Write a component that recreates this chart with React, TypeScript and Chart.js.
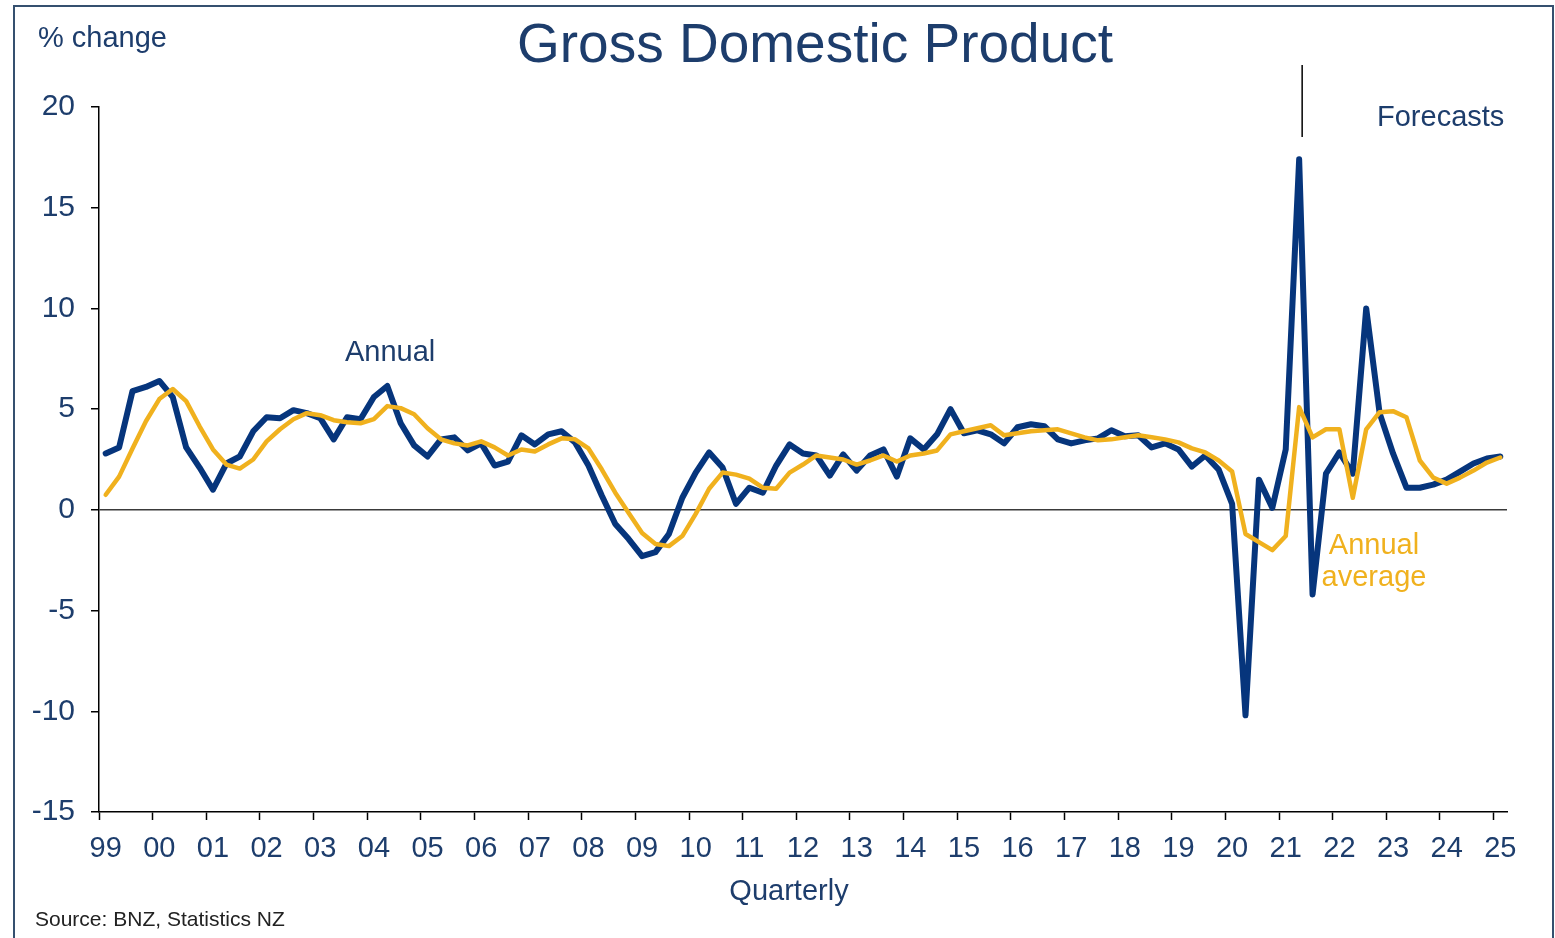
import React, { useEffect, useRef } from "react";
import { Chart, registerables } from "chart.js";

Chart.register(...registerables);

const yearLabels = ["99","00","01","02","03","04","05","06","07","08","09","10","11","12","13","14","15","16","17","18","19","20","21","22","23","24","25"];

const annualGrowth = [
  2.8, 3.1, 5.9, 6.1, 6.4, 5.6, 3.1, 2.1, 1.0, 2.3,
  2.65, 3.9, 4.6, 4.55, 4.95, 4.8, 4.55, 3.5, 4.6, 4.5,
  5.6, 6.15, 4.3, 3.2, 2.65, 3.5, 3.6, 2.95, 3.3, 2.2,
  2.4, 3.7, 3.25, 3.75, 3.9, 3.35, 2.2, 0.7, -0.7, -1.45,
  -2.3, -2.1, -1.2, 0.6, 1.85, 2.85, 2.1, 0.3, 1.1, 0.85,
  2.2, 3.25, 2.8, 2.7, 1.7, 2.75, 1.95, 2.7, 3.0, 1.65,
  3.55, 3.0, 3.75, 5.0, 3.8, 3.95, 3.75, 3.3, 4.1, 4.25,
  4.15, 3.5, 3.3, 3.45, 3.55, 3.95, 3.65, 3.7, 3.1, 3.3,
  3.0, 2.15, 2.7, 2.0, 0.3, -10.2, 1.5, 0.1, 3.0, 17.4,
  -4.2, 1.8, 2.85, 1.8, 10.0, 4.8, 2.8, 1.1, 1.1, 1.25,
  1.5, 1.9, 2.3, 2.55, 2.65
];

const annualAverage = [
  0.75, 1.65, 3.05, 4.4, 5.5, 6.0, 5.4, 4.15, 3.0, 2.25,
  2.05, 2.5, 3.4, 4.0, 4.5, 4.8, 4.7, 4.45, 4.35, 4.3,
  4.5, 5.15, 5.05, 4.75, 4.05, 3.5, 3.3, 3.2, 3.4, 3.1,
  2.7, 3.0, 2.9, 3.25, 3.55, 3.5, 3.05, 2.0, 0.85, -0.15,
  -1.15, -1.7, -1.8, -1.3, -0.2, 1.05, 1.85, 1.75, 1.55, 1.1,
  1.05, 1.85, 2.25, 2.7, 2.6, 2.5, 2.25, 2.45, 2.7, 2.4,
  2.7, 2.8, 2.95, 3.75, 3.9, 4.05, 4.2, 3.7, 3.8, 3.9,
  3.95, 4.0, 3.8, 3.6, 3.45, 3.5, 3.6, 3.7, 3.6, 3.5,
  3.35, 3.05, 2.85, 2.45, 1.9, -1.2, -1.6, -2.0, -1.3, 5.1,
  3.6, 4.0, 4.0, 0.6, 4.0, 4.85, 4.9, 4.6, 2.45, 1.6,
  1.3, 1.6, 1.95, 2.35, 2.6
];

const yTicks = [-15, -10, -5, 0, 5, 10, 15, 20];
const quartersPerYear = 4;
const forecastStartIndex = 89;

// x = quarter index since 1999 Q1 (x axis spans half a quarter either side)
const growthPoints = annualGrowth.map((v, i) => ({ x: i, y: v }));
const averagePoints = annualAverage.map((v, i) => ({ x: i, y: v }));
const xMin = -0.5;
const xMax = annualGrowth.length - 0.5;
const yearTickValues = yearLabels.map((_, k) => k * quartersPerYear - 0.5);

const NAVY_TEXT = "#1d3d6c";
const BLUE = "#06357c";
const GOLD = "#f0b11e";
const FONT = "'Liberation Sans', Arial, sans-serif";

const overlayPlugin = {
  id: "overlay",
  beforeDraw(chart: any) {
    const ctx = chart.ctx;
    ctx.save();
    ctx.fillStyle = "#ffffff";
    ctx.fillRect(0, 0, chart.width, chart.height);
    ctx.restore();
  },
  afterDraw(chart: any) {
    const ctx = chart.ctx;
    ctx.save();
    ctx.strokeStyle = "#35506f";
    ctx.lineWidth = 2;
    ctx.strokeRect(14, 6, 1539, 940);

    ctx.fillStyle = NAVY_TEXT;
    ctx.textAlign = "left";
    ctx.textBaseline = "alphabetic";
    ctx.font = `29px ${FONT}`;
    ctx.fillText("% change", 38, 47);

    ctx.textAlign = "center";
    ctx.font = `55px ${FONT}`;
    ctx.fillText("Gross Domestic Product", 815, 62);

    ctx.font = `29px ${FONT}`;
    ctx.textAlign = "left";
    ctx.fillText("Annual", 345, 361);
    ctx.fillText("Forecasts", 1377, 126);

    ctx.textAlign = "center";
    ctx.fillText("Quarterly", 789, 900);

    ctx.fillStyle = GOLD;
    ctx.fillText("Annual", 1374, 554);
    ctx.fillText("average", 1374, 586);

    ctx.fillStyle = "#222222";
    ctx.textAlign = "left";
    ctx.font = `21px ${FONT}`;
    ctx.fillText("Source: BNZ, Statistics NZ", 35, 926);

    const x = chart.scales.x.getPixelForValue(forecastStartIndex) + 3;
    ctx.strokeStyle = "#000000";
    ctx.lineWidth = 1.5;
    ctx.beginPath();
    ctx.moveTo(x, 65);
    ctx.lineTo(x, 137);
    ctx.stroke();
    ctx.restore();
  },
};

export default function App() {
  const canvasRef = useRef<HTMLCanvasElement | null>(null);

  useEffect(() => {
    if (!canvasRef.current) return;
    const chart = new Chart(canvasRef.current, {
      type: "line",
      data: {
        datasets: [
          {
            label: "Annual average",
            data: averagePoints,
            borderColor: GOLD,
            borderWidth: 4.5,
            pointRadius: 0,
            tension: 0,
            borderJoinStyle: "round",
            borderCapStyle: "round",
            fill: false,
          },
          {
            label: "Annual",
            data: growthPoints,
            borderColor: BLUE,
            borderWidth: 6,
            pointRadius: 0,
            tension: 0,
            borderJoinStyle: "round",
            borderCapStyle: "round",
            fill: false,
          },
        ],
      },
      options: {
        animation: false,
        responsive: false,
        devicePixelRatio: 1,
        parsing: false,
        layout: { padding: { top: 107, right: 48, bottom: 0, left: 0 } },
        plugins: {
          legend: { display: false },
          tooltip: { enabled: false },
          title: { display: false },
        },
        scales: {
          x: {
            type: "linear",
            min: xMin,
            max: xMax,
            afterFit: (scale: any) => {
              scale.height = 126;
            },
            afterBuildTicks: (scale: any) => {
              scale.ticks = yearTickValues.map((v) => ({ value: v }));
            },
            grid: {
              drawOnChartArea: false,
              drawTicks: true,
              tickLength: 8,
              tickColor: "#000000",
              tickWidth: 1.5,
            },
            border: { display: true, color: "#000000", width: 1.5 },
            ticks: {
              autoSkip: false,
              maxRotation: 0,
              minRotation: 0,
              padding: 12,
              labelOffset: 6.7,
              color: NAVY_TEXT,
              font: { family: FONT, size: 29 },
              callback: (_v: any, i: number) => yearLabels[i],
            },
          },
          y: {
            type: "linear",
            min: yTicks[0],
            max: yTicks[yTicks.length - 1],
            afterFit: (scale: any) => {
              scale.width = 99;
            },
            afterBuildTicks: (scale: any) => {
              scale.ticks = yTicks.map((v) => ({ value: v }));
            },
            grid: {
              drawOnChartArea: true,
              drawTicks: true,
              tickLength: 8,
              tickColor: "#000000",
              tickWidth: 1.5,
              color: (c: any) => (c.tick && c.tick.value === 0 ? "#3a3a3a" : "rgba(0,0,0,0)"),
              lineWidth: 1.5,
            },
            border: { display: true, color: "#000000", width: 1.5 },
            ticks: {
              padding: 16,
              color: NAVY_TEXT,
              font: { family: FONT, size: 30 },
              callback: (v: any) => String(v),
            },
          },
        },
      },
      plugins: [overlayPlugin],
    });
    return () => chart.destroy();
  }, []);

  return (
    <div style={{ position: "fixed", left: 0, top: 0, width: 1555, height: 938, background: "#ffffff" }}>
      <canvas ref={canvasRef} width={1555} height={938} style={{ display: "block" }} />
    </div>
  );
}
